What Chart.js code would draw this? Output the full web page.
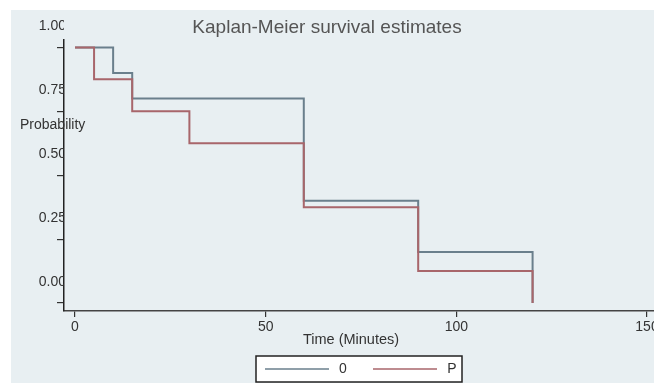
<!DOCTYPE html>
<html>
<head>
<meta charset="utf-8">
<script src="https://cdn.jsdelivr.net/npm/chart.js@4"></script>
<style>
  html, body { margin: 0; padding: 0; background: #ffffff; }
  #wrap { width: 654px; height: 383px; position: relative; }
</style>
</head>
<body>
<div id="wrap"><canvas id="c" width="654" height="383"></canvas></div>
<script>
// ---- data ----
const titleText = "Kaplan-Meier survival estimates";
const xTitle = "Time (Minutes)";
const yTitle = "Probability";
const seriesNames = ["0", "P"];
const timesGroup0 = [0, 10, 15, 60, 90, 120];
const survGroup0 = [1.0, 0.9, 0.8, 0.4, 0.2, 0.0];
const timesGroupP = [0, 5, 15, 30, 60, 90, 120];
const survGroupP = [1.0, 0.875, 0.75, 0.625, 0.375, 0.125, 0.0];
const xTicks = [0, 50, 100, 150];
const yTicks = [0, 0.25, 0.5, 0.75, 1.0];

const colors = ["#6a7f8c", "#a8666b"];
const FONT = "'Liberation Sans', Arial, sans-serif";

const toPts = (xs, ys) => xs.map((x, i) => ({ x: x, y: ys[i] }));

const stretch = {
  id: 'stretch',
  afterLayout(chart) {
    const x = chart.scales.x;
    x.right = chart.width;
    x.width = x.right - x.left;
    x.configure();
    chart.chartArea.right = chart.width;
    chart.chartArea.width = chart.chartArea.right - chart.chartArea.left;
  }
};

const decor = {
  id: 'decor',
  beforeDraw(chart) {
    const ctx = chart.ctx;
    ctx.save();
    ctx.fillStyle = '#ffffff';
    ctx.fillRect(0, 0, chart.width, chart.height);
    ctx.fillStyle = '#e8eff2';
    ctx.fillRect(11, 10, chart.width - 11, chart.height - 10);
    ctx.restore();
  },
  afterDraw(chart) {
    const ctx = chart.ctx;
    ctx.save();
    // title
    ctx.fillStyle = '#555555';
    ctx.font = "19px " + FONT;
    ctx.textAlign = 'center';
    ctx.textBaseline = 'middle';
    ctx.fillText(titleText, 327, 28);
    // y title (horizontal)
    ctx.fillStyle = '#333333';
    ctx.font = "14px " + FONT;
    ctx.textAlign = 'left';
    ctx.fillText(yTitle, 20, 125);
    // x title
    ctx.textAlign = 'center';
    ctx.font = "14.5px " + FONT;
    ctx.fillText(xTitle, 351, 340);
    // legend box
    const bx = 256, by = 356, bw = 206, bh = 26;
    ctx.fillStyle = '#ffffff';
    ctx.fillRect(bx, by, bw, bh);
    ctx.strokeStyle = '#222222';
    ctx.lineWidth = 1.5;
    ctx.strokeRect(bx, by, bw, bh);
    const ly = 369;
    const items = [[265, 329, 343], [373, 437, 452]];
    items.forEach((it, i) => {
      ctx.strokeStyle = colors[i];
      ctx.lineWidth = 1.5;
      ctx.beginPath();
      ctx.moveTo(it[0], ly);
      ctx.lineTo(it[1], ly);
      ctx.stroke();
      ctx.fillStyle = '#333333';
      ctx.font = "14px " + FONT;
      ctx.textAlign = 'center';
      ctx.fillText(seriesNames[i], it[2], ly);
    });
    ctx.restore();
  }
};

new Chart(document.getElementById('c'), {
  type: 'line',
  data: {
    datasets: [
      { label: seriesNames[0], data: toPts(timesGroup0, survGroup0), borderColor: colors[0],
        borderWidth: 2, pointRadius: 0, stepped: 'before', fill: false, order: 1 },
      { label: seriesNames[1], data: toPts(timesGroupP, survGroupP), borderColor: colors[1],
        borderWidth: 2, pointRadius: 0, stepped: 'before', fill: false, order: 0 }
    ]
  },
  options: {
    responsive: false,
    animation: false,
    devicePixelRatio: 1,
    layout: { autoPadding: false, padding: { left: 0, top: 40, right: 0, bottom: 0 } },
    plugins: { legend: { display: false }, title: { display: false }, tooltip: { enabled: false } },
    scales: {
      x: {
        type: 'linear',
        min: -2.885, max: 151.84,
        afterBuildTicks: s => { s.ticks = xTicks.map(v => ({ value: v })); },
        afterFit: s => { s.height = 72; },
        grid: { drawOnChartArea: false, drawTicks: true, tickLength: 6, color: '#333333', lineWidth: 1.2 },
        border: { display: true, color: '#444444', width: 1.5 },
        ticks: { color: '#333333', font: { family: FONT, size: 14 }, padding: 2, maxRotation: 0,
                 callback: v => String(v) }
      },
      y: {
        type: 'linear',
        min: -0.031, max: 1.029,
        afterBuildTicks: s => { s.ticks = yTicks.map(v => ({ value: v })); },
        afterFit: s => { s.width = 64; },
        grid: { drawOnChartArea: false, drawTicks: true, tickLength: 7, color: '#333333', lineWidth: 1.2 },
        border: { display: true, color: '#222222', width: 1.5 },
        ticks: { color: '#333333', font: { family: FONT, size: 14 }, padding: -9, labelOffset: -21,
                 callback: v => v.toFixed(2) }
      }
    }
  },
  plugins: [stretch, decor]
});
</script>
</body>
</html>
